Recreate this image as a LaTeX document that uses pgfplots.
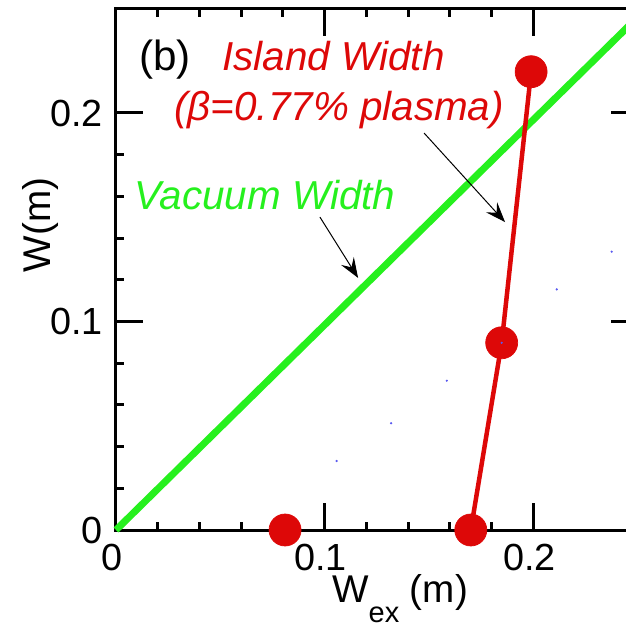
\documentclass[border=0pt]{standalone}
\usepackage{fontspec}
\setmainfont{Liberation Sans}
\usepackage{pgfplots}
\pgfplotsset{compat=1.18}
\usetikzlibrary{arrows.meta}
\definecolor{myred}{RGB}{221,8,8}
\definecolor{mygreen}{RGB}{38,240,30}
\definecolor{myblue}{RGB}{90,90,240}
\begin{document}
\begin{tikzpicture}
\begin{axis}[
  x=41.74cm, y=41.7cm,
  xmin=0, xmax=0.25, ymin=0, ymax=0.25,
  clip=false,
  axis line style={line width=0.06cm},
  xtick={0,0.1,0.2}, ytick={0,0.1,0.2},
  xticklabels={0,0.1,0.2}, yticklabels={0,0.1,0.2},
  minor x tick num=4, minor y tick num=4,
  tick align=inside,
  major tick length=0.54cm, minor tick length=0.16cm,
  every tick/.style={black, line width=0.06cm},
  /pgf/number format/assume math mode=true,
  tick label style={font=\fontsize{21.5}{21.5}\selectfont},
  xticklabel style={yshift=-0.16cm, xshift=-0.08cm},
  yticklabel style={xshift=-0.14cm},
  xlabel={W\raisebox{-0.4cm}{\fontsize{16.5}{16.5}\selectfont ex} (m)},
  ylabel={W(m)},
  xlabel style={at={(axis cs:0.1361,-0.035)}, anchor=base, font=\fontsize{22}{22}\selectfont},
  ylabel style={at={(axis cs:-0.0316,0.1463)}, anchor=base, rotate=0, font=\fontsize{22}{22}\selectfont},
]
\coordinate (o) at (axis cs:0,0);
% vacuum width
\addplot[mygreen, line width=0.14cm, no marks] coordinates {(0,0) (0.25,0.246)};
% island width line
\addplot[myred, line width=0.09cm, no marks] coordinates {(0.170,0) (0.1848,0.0898) (0.1989,0.2198)};
% island width points
\addplot[only marks, mark=*, mark size=0.32cm, color=myred] coordinates {(0.081,0) (0.170,0) (0.1848,0.0898) (0.1989,0.2198)};
% faint blue points
\addplot[only marks, mark=*, mark size=0.014cm, color=myblue] coordinates {(0.1057,0.0331) (0.1318,0.0512) (0.1585,0.0716) (0.1848,0.0898) (0.2112,0.1154) (0.2375,0.1335)};
\node[anchor=base west, font=\fontsize{24}{24}\selectfont] at (axis cs:0.0082,0.2206) {(b)};
\node[anchor=base, text=myred, font=\fontsize{23}{23}\selectfont\itshape] at (axis cs:0.1042,0.2206) {Island Width};
\node[anchor=base, text=myred, font=\fontsize{23}{23}\selectfont\itshape] at (axis cs:0.1069,0.1966) {(β=0.77\% plasma)};
\node[anchor=base west, text=mygreen, font=\fontsize{23}{23}\selectfont\itshape] at (axis cs:0.0058,0.1535) {Vacuum Width};
\draw[black, line width=0.02cm, -{Stealth[length=0.4cm,width=0.3cm,inset=0.15cm]}] (axis cs:0.1476,0.1904) -- (axis cs:0.1864,0.1477);
\draw[black, line width=0.02cm, -{Stealth[length=0.4cm,width=0.3cm,inset=0.15cm]}] (axis cs:0.0977,0.1501) -- (axis cs:0.1160,0.1209);
\end{axis}
\pgfresetboundingbox
\useasboundingbox ([shift={(-2.32cm,-2.02cm)}]o) rectangle ++(12.5cm,12.62cm);
\end{tikzpicture}
\end{document}
